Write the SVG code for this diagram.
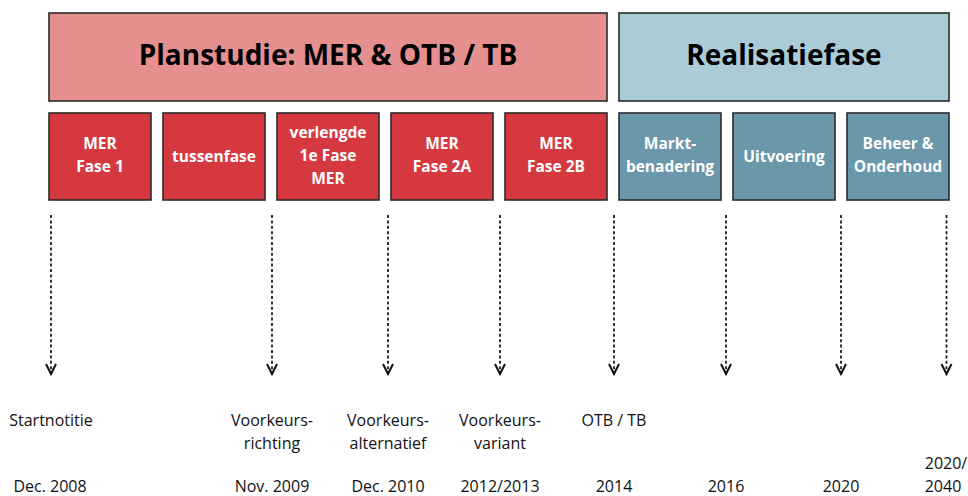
<svg xmlns="http://www.w3.org/2000/svg" width="968" height="496" viewBox="0 0 968 496">
<defs>
<style>
.big{stroke:#2b2b2b;stroke-width:1.6}
.pink{fill:#E68F8F}
.lblue{fill:#AACCD6}
.red{fill:#D5393F;stroke:#2b2b2b;stroke-width:1.6}
.teal{fill:#6A97A9;stroke:#2b2b2b;stroke-width:1.6}
.title{font-family:"Open Sans","Liberation Sans",sans-serif;font-weight:bold;font-size:28px;fill:#000;text-anchor:middle}
.box{font-family:"Open Sans","Liberation Sans",sans-serif;font-weight:bold;font-size:15.5px;fill:#fff;text-anchor:middle}
.lbl{font-family:"Open Sans","Liberation Sans",sans-serif;font-size:16px;fill:#111;text-anchor:middle}
.dot{stroke:#111;stroke-width:1.7;stroke-dasharray:3 2.4;fill:none}
.head{stroke:#111;stroke-width:2;fill:none}
</style>
</defs>
<rect width="968" height="496" fill="#fff"/>

<g id="planstudie">
<rect class="big pink" x="49" y="13" width="558" height="88"/>
<text class="title" x="328" y="65">Planstudie: MER &amp; OTB / TB</text>
</g>
<g id="realisatiefase">
<rect class="big lblue" x="619" y="13" width="330" height="88"/>
<text class="title" x="784" y="65">Realisatiefase</text>
</g>

<g id="mer-fase-1">
<rect class="red" x="49" y="113" width="102" height="87"/>
<text class="box" x="100" y="149">MER</text>
<text class="box" x="100" y="172">Fase 1</text>
</g>
<g id="tussenfase">
<rect class="red" x="163" y="113" width="102" height="87"/>
<text class="box" x="214" y="162">tussenfase</text>
</g>
<g id="verlengde">
<rect class="red" x="277" y="113" width="102" height="87"/>
<text class="box" x="328" y="138">verlengde</text>
<text class="box" x="328" y="161">1e Fase</text>
<text class="box" x="328" y="184">MER</text>
</g>
<g id="mer-fase-2a">
<rect class="red" x="391" y="113" width="102" height="87"/>
<text class="box" x="442" y="149">MER</text>
<text class="box" x="442" y="172">Fase 2A</text>
</g>
<g id="mer-fase-2b">
<rect class="red" x="505" y="113" width="102" height="87"/>
<text class="box" x="556" y="149">MER</text>
<text class="box" x="556" y="172">Fase 2B</text>
</g>
<g id="marktbenadering">
<rect class="teal" x="619" y="113" width="102" height="87"/>
<text class="box" x="670" y="149">Markt-</text>
<text class="box" x="670" y="172">benadering</text>
</g>
<g id="uitvoering">
<rect class="teal" x="733" y="113" width="102" height="87"/>
<text class="box" x="784" y="162">Uitvoering</text>
</g>
<g id="beheer">
<rect class="teal" x="847" y="113" width="102" height="87"/>
<text class="box" x="898" y="149">Beheer &amp;</text>
<text class="box" x="898" y="172">Onderhoud</text>
</g>

<g id="connectors">
<path class="dot" d="M51 215V373M272 215V373M388 215V373M500 215V373M614 215V373M726 215V373M841 215V373M946.5 215V373"/>
<path class="head" d="M46 364L51 374L56 364M267 364L272 374L277 364M383 364L388 374L393 364M495 364L500 374L505 364M609 364L614 374L619 364M721 364L726 374L731 364M836 364L841 374L846 364M941.5 364L946.5 374L951.5 364"/>
</g>

<g id="labels">
<text class="lbl" x="51" y="426">Startnotitie</text>
<text class="lbl" x="272" y="426">Voorkeurs-</text>
<text class="lbl" x="272" y="449">richting</text>
<text class="lbl" x="388" y="426">Voorkeurs-</text>
<text class="lbl" x="388" y="449">alternatief</text>
<text class="lbl" x="500" y="426">Voorkeurs-</text>
<text class="lbl" x="500" y="449">variant</text>
<text class="lbl" x="614" y="426">OTB / TB</text>
<text class="lbl" x="50" y="492">Dec. 2008</text>
<text class="lbl" x="272" y="492">Nov. 2009</text>
<text class="lbl" x="388" y="492">Dec. 2010</text>
<text class="lbl" x="500" y="492">2012/2013</text>
<text class="lbl" x="614" y="492">2014</text>
<text class="lbl" x="726" y="492">2016</text>
<text class="lbl" x="841" y="492">2020</text>
<text class="lbl" x="946" y="469">2020/</text>
<text class="lbl" x="943" y="492">2040</text>
</g>
</svg>
